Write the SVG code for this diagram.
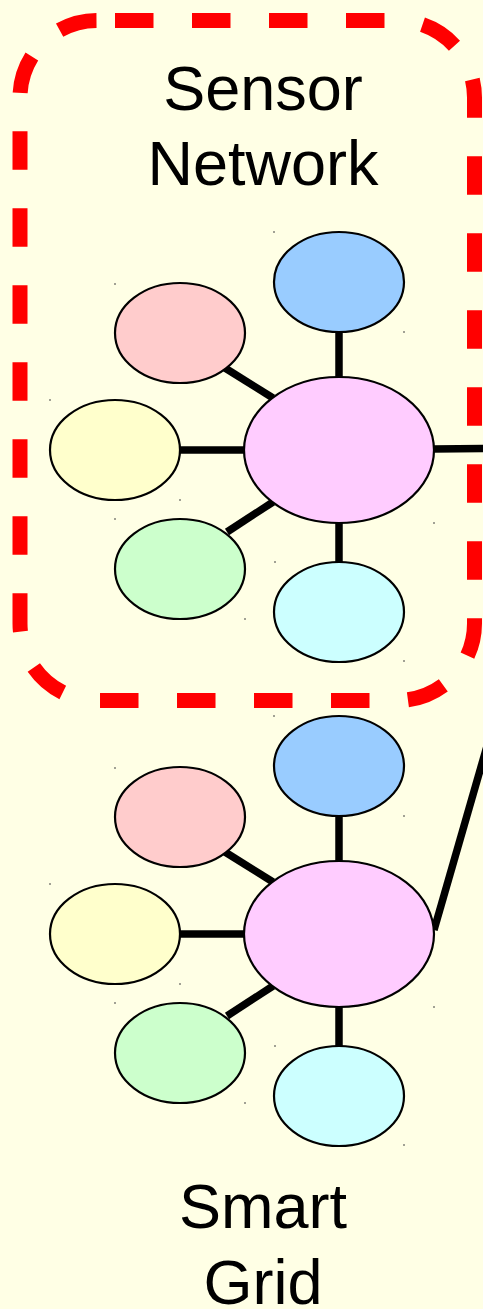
<svg xmlns="http://www.w3.org/2000/svg" width="483" height="1309" viewBox="0 0 483 1309">
<style>
.bg{fill:#FFFFE5}
.n{stroke:#000;stroke-width:2.2}
.e{stroke:#000;stroke-width:7.5;fill:none}
.lbl{font-family:"Liberation Sans",Arial,sans-serif;font-size:63px;fill:#000;text-anchor:middle}
.dot{fill:#444}
.grp{fill:none;stroke:#FF0000;stroke-width:15;stroke-dasharray:38.5 38.5;stroke-dashoffset:59}
</style>
<defs>
<g id="dots">
<rect class="dot" x="273.5" y="231" width="1" height="2"/>
<rect class="dot" x="403.5" y="331" width="1" height="2"/>
<rect class="dot" x="114.5" y="283" width="1" height="2"/>
<rect class="dot" x="49.5" y="399" width="1" height="2"/>
<rect class="dot" x="179.5" y="499" width="1" height="2"/>
<rect class="dot" x="114.5" y="518" width="1" height="2"/>
<rect class="dot" x="244.5" y="618" width="1" height="2"/>
<rect class="dot" x="274.5" y="561" width="1" height="2"/>
<rect class="dot" x="403.5" y="660" width="1" height="2"/>
<rect class="dot" x="433.5" y="522" width="1" height="2"/>
</g>
</defs>
<rect class="bg" x="0" y="0" width="483" height="1309"/>

<g id="sensor-network-group">
<rect class="grp" x="20" y="20.5" width="454.5" height="680" rx="77" ry="77"/>
<text class="lbl" x="263" y="110">Sensor</text>
<text class="lbl" x="263" y="185">Network</text>
</g>

<g id="connectors">
<line class="e" x1="339" y1="332" x2="339" y2="377"/>
<line class="e" x1="225" y1="368" x2="273" y2="398"/>
<line class="e" x1="180" y1="450" x2="245" y2="450"/>
<line class="e" x1="227" y1="532" x2="273" y2="502"/>
<line class="e" x1="339" y1="522" x2="339" y2="563"/>
<line class="e" x1="433" y1="449" x2="490" y2="448.5"/>
<line class="e" x1="339" y1="816" x2="339" y2="861"/>
<line class="e" x1="225" y1="852" x2="273" y2="882"/>
<line class="e" x1="180" y1="934" x2="245" y2="934"/>
<line class="e" x1="227" y1="1016" x2="273" y2="986"/>
<line class="e" x1="339" y1="1006" x2="339" y2="1047"/>
<line class="e" x1="434" y1="930" x2="500" y2="701"/>
</g>

<g id="sensor-nodes">
<g id="s-hub"><ellipse class="n" cx="339" cy="450" rx="95" ry="73" fill="#FFCCFF"/></g>
<g id="s-blue"><ellipse class="n" cx="339" cy="282" rx="65" ry="50" fill="#99CCFF"/></g>
<g id="s-pink"><ellipse class="n" cx="180" cy="333" rx="65" ry="50" fill="#FFCCCC"/></g>
<g id="s-yellow"><ellipse class="n" cx="115" cy="450" rx="65" ry="50" fill="#FFFFCC"/></g>
<g id="s-green"><ellipse class="n" cx="180" cy="569" rx="65" ry="50" fill="#CCFFCC"/></g>
<g id="s-cyan"><ellipse class="n" cx="339" cy="612" rx="65" ry="50" fill="#CCFFFF"/></g>
<use href="#dots"/>
</g>

<g id="grid-nodes">
<g id="g-hub"><ellipse class="n" cx="339" cy="934" rx="95" ry="73" fill="#FFCCFF"/></g>
<g id="g-blue"><ellipse class="n" cx="339" cy="766" rx="65" ry="50" fill="#99CCFF"/></g>
<g id="g-pink"><ellipse class="n" cx="180" cy="817" rx="65" ry="50" fill="#FFCCCC"/></g>
<g id="g-yellow"><ellipse class="n" cx="115" cy="934" rx="65" ry="50" fill="#FFFFCC"/></g>
<g id="g-green"><ellipse class="n" cx="180" cy="1053" rx="65" ry="50" fill="#CCFFCC"/></g>
<g id="g-cyan"><ellipse class="n" cx="339" cy="1096" rx="65" ry="50" fill="#CCFFFF"/></g>
<use href="#dots" transform="translate(0,484)"/>
</g>

<g id="smart-grid-label">
<text class="lbl" x="263" y="1228">Smart</text>
<text class="lbl" x="263" y="1304">Grid</text>
</g>
</svg>
